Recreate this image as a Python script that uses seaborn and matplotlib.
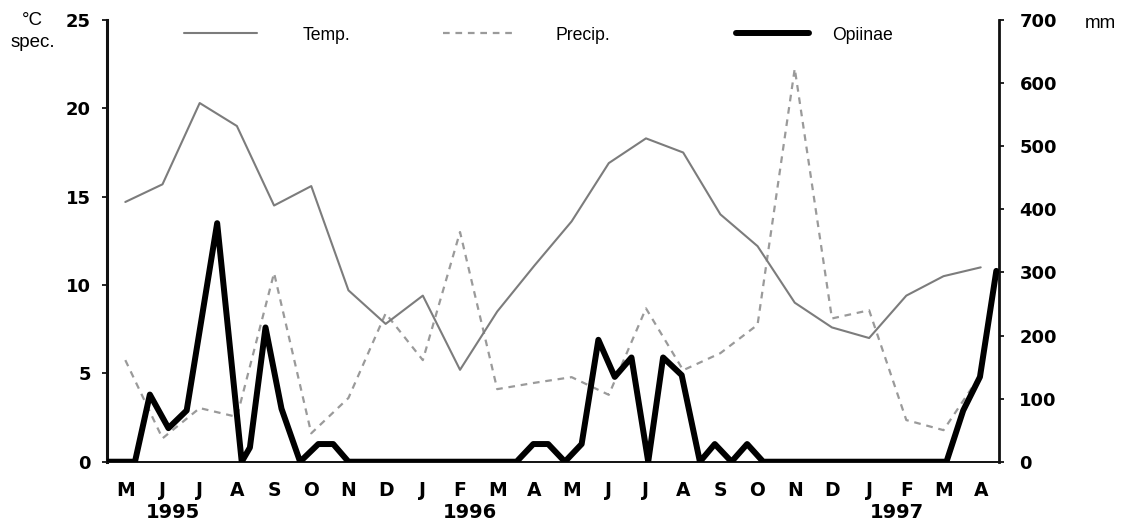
import numpy as np
import pandas as pd
import matplotlib
matplotlib.use("Agg")
import matplotlib.pyplot as plt
import seaborn as sns

# monthly series, May 1995 - April 1997
months = ["M", "J", "J", "A", "S", "O", "N", "D", "J", "F", "M", "A",
          "M", "J", "J", "A", "S", "O", "N", "D", "J", "F", "M", "A"]
temp_c = [14.7, 15.7, 20.3, 19.0, 14.5, 15.6, 9.7, 7.8, 9.4, 5.2, 8.5, 11.1,
          13.6, 16.9, 18.3, 17.5, 14.0, 12.2, 9.0, 7.6, 7.0, 9.4, 10.5, 11.0]
precip_mm = [161, 37, 85, 71, 299, 45, 101, 235, 161, 364, 115, 125,
             134, 106, 243, 145, 172, 217, 623, 227, 240, 66, 50, 138]

# Opiinae species per sample (sample date in months since 1 May 1995)
opi_time = [0.0, 0.76, 1.16, 1.66, 2.15, 2.97, 3.63, 3.85, 4.27, 4.7, 5.2,
            5.69, 6.09, 6.5, 11.02, 11.47, 11.87, 12.32, 12.77, 13.22, 13.66,
            14.11, 14.56, 14.96, 15.46, 15.95, 16.35, 16.8, 17.22, 17.65,
            22.58, 23.03, 23.48, 23.92]
opi_species = [0, 0, 3.8, 1.9, 2.9, 13.5, 0, 0.8, 7.6, 3.0, 0,
               1, 1, 0, 0, 1, 1, 0, 1, 6.9, 4.8,
               5.9, 0, 5.9, 4.9, 0, 1, 0, 1, 0,
               0, 2.9, 4.8, 10.8]

years = ["1995", "1996", "1997"]
year_pos = [1.77, 9.77, 21.24]

monthly = pd.DataFrame({"pos": np.arange(len(months)) + 0.5,
                        "temp": temp_c, "precip": precip_mm})
opi = pd.DataFrame({"t": opi_time, "n": opi_species})

sns.set_style("white")
plt.rcParams["font.family"] = ["Liberation Sans", "DejaVu Sans"]
plt.rcParams["text.color"] = "black"
plt.rcParams["xtick.color"] = "black"
plt.rcParams["ytick.color"] = "black"
BOLD = dict(family="DejaVu Sans", fontweight="bold")

fig = plt.figure(figsize=(11.28, 5.22), dpi=100)
ax = fig.add_axes([0.0946, 0.1155, 0.7913, 0.8462])
ax2 = ax.twinx()
ax.set_zorder(ax2.get_zorder() + 1)
ax.patch.set_visible(False)

sns.lineplot(data=monthly, x="pos", y="temp", ax=ax, color="#7c7c7c",
             linewidth=1.5, legend=False)
sns.lineplot(data=monthly, x="pos", y="precip", ax=ax2, color="#9a9a9a",
             linewidth=1.6, linestyle=(0, (3, 2.6)), legend=False)
sns.lineplot(data=opi, x="t", y="n", ax=ax, color="black", linewidth=4.3,
             legend=False, zorder=5)

ax.set_xlim(0, 24)
ax.set_ylim(0, 25)
ax2.set_ylim(0, 700)
ax.set_xlabel("")
ax.set_ylabel("")
ax2.set_ylabel("")

ax.set_xticks(np.arange(0, 25))
ax.set_xticklabels([])
ax.set_xticks(monthly["pos"], minor=True)
ax.set_xticklabels(months, minor=True, fontsize=13.5, **BOLD)
ax.tick_params(axis="x", which="major", direction="out", length=3.5, width=1, color="#555555")
ax.tick_params(axis="x", which="minor", length=0, pad=14)
ax.set_yticks([0, 5, 10, 15, 20, 25])
ax.set_yticklabels(["0", "5", "10", "15", "20", "25"], fontsize=13, **BOLD)
ax.tick_params(axis="y", direction="out", length=3.5, width=1.2, pad=8)
ax2.set_yticks([0, 100, 200, 300, 400, 500, 600, 700])
ax2.set_yticklabels(["0", "100", "200", "300", "400", "500", "600", "700"],
                    fontsize=13, **BOLD)
ax2.tick_params(axis="y", direction="out", length=3.5, width=1.2, pad=11)

for a in (ax, ax2):
    a.spines["top"].set_visible(False)
    for side in ("left", "right", "bottom"):
        a.spines[side].set_color("#111111")
    a.spines["left"].set_linewidth(2.2)
    a.spines["right"].set_linewidth(2.0)
    a.spines["bottom"].set_linewidth(1.2)
ax.spines["right"].set_visible(False)
ax2.spines["left"].set_visible(False)

for yr, p in zip(years, year_pos):
    ax.text(p, -0.115, yr, transform=ax.get_xaxis_transform(), ha="center",
            va="center", fontsize=14, **BOLD)

fig.text(0.0288, 0.952, "°C", ha="center", va="baseline", fontsize=13.5)
fig.text(0.0288, 0.910, "spec.", ha="center", va="baseline", fontsize=13.5)
fig.text(0.9755, 0.946, "mm", ha="center", va="baseline", fontsize=13.5)

# three separate legend entries, placed as in the original
entries = [(ax.lines[0], "Temp.", 0.0866, 2.55),
           (ax2.lines[0], "Precip.", 0.3768, 2.2),
           (ax.lines[1], "Opiinae", 0.7050, 1.3)]
for h, name, xa, pad in entries:
    leg = ax.legend([h], [name], loc="center left", bbox_to_anchor=(xa, 0.966),
                    frameon=False, fontsize=12.7, handlelength=4.15,
                    handletextpad=pad, borderpad=0, borderaxespad=0)
    ax.add_artist(leg)
ax.legend_ = None

fig.savefig("out.png", dpi=100)
